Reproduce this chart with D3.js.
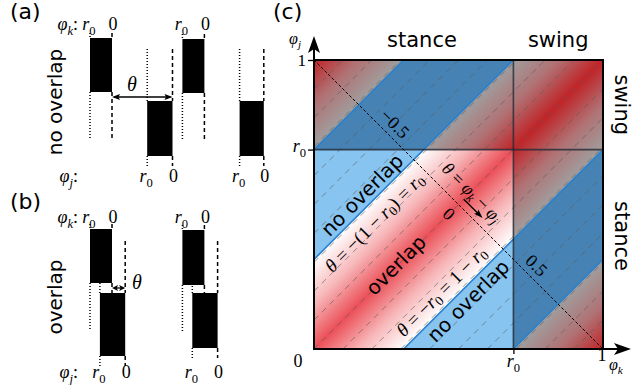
<!DOCTYPE html>
<html><head><meta charset="utf-8">
<script src="https://cdn.jsdelivr.net/npm/d3@7"></script>
<style>body{margin:0;background:#fff}svg{display:block}</style>
</head><body>
<svg id="c" width="633" height="385"></svg>
<script>
// ---------------- data ----------------
const r0 = 0.69;
const panelLabels = ["(a)", "(b)", "(c)"];
const topPhaseLabels = [{lab: "stance", from: 0, to: r0}, {lab: "swing", from: r0, to: 1}];
const rightPhaseLabels = [{lab: "swing", from: r0, to: 1}, {lab: "stance", from: 0, to: r0}];
const blocks = [
  {k: [0, r0], j: [0, r0], tone: "light"},
  {k: [0, r0], j: [r0, 1], tone: "dark"},
  {k: [r0, 1], j: [0, r0], tone: "dark"},
  {k: [r0, 1], j: [r0, 1], tone: "dark"}
];
const bandEdges = [-r0, -(1 - r0), 1 - r0, r0];
const isoTheta = [-0.9, -0.8, -0.7, -0.6, -0.5, -0.4, -0.3, -0.2, -0.1, 0, 0.1, 0.2, 0.3, 0.4, 0.5, 0.6, 0.7, 0.8, 0.9];
const antiTicks = [{t: -0.5, lab: "−0.5", side: 1}, {t: 0, lab: "0", side: -1}, {t: 0.48, lab: "0.5", side: 1}];
const xTicks = [{v: 0, lab: "0"}, {v: r0, lab: "r0"}, {v: 1, lab: "1"}];
const yTicks = [{v: r0, lab: "r0"}, {v: 1, lab: "1"}];
// schematic pulses (phase units) for panels (a) and (b)
const pulsesA = [
  {row: "k", start: 0, end: 1},
  {row: "j", start: 2.6, end: 3.75},
  {row: "k", start: 4.2, end: 5.2},
  {row: "j", start: 6.8, end: 7.9}
];
const pulsesB = [
  {row: "k", start: 0, end: 1},
  {row: "j", start: 0.45, end: 1.6},
  {row: "k", start: 4.2, end: 5.2},
  {row: "j", start: 4.65, end: 5.8}
];
const thetaA = [1, 3.75];
const thetaB = [1, 1.6];

// ---------------- setup ----------------
const svg = d3.select("#c");
const SANS = "DejaVu Sans, sans-serif";
const SERIF = "Liberation Serif, Times New Roman, serif";
const defs = svg.append("defs");

function mt(sel, parts, fs) {
  let sub = false;
  parts.forEach(p => {
    const t = p[0], st = p[1] || "";
    const ts = sel.append("tspan").text(t);
    if (st.includes("i")) ts.attr("font-style", "italic");
    const isSub = st.includes("s");
    if (isSub) ts.attr("font-size", 0.7 * fs);
    if (isSub && !sub) ts.attr("dy", 0.28 * fs);
    if (!isSub && sub) ts.attr("dy", -0.28 * fs);
    sub = isSub;
  });
  return sel;
}
const R0 = [["r", "i"], ["0", "s"]];

function head(g, x, y, ang, len, wid, notch) {
  const a = ang * Math.PI / 180, c = Math.cos(a), s = Math.sin(a);
  const pts = [[0, 0], [-len, wid / 2], [-len + notch, 0], [-len, -wid / 2]]
    .map(([u, v]) => [x + u * c - v * s, y + u * s + v * c]);
  g.append("path").attr("d", "M" + pts.map(p => p.join(",")).join("L") + "Z").attr("fill", "#000");
}

// ---------------- panel (c) ----------------
const xC = d3.scaleLinear().domain([0, 1]).range([314, 603]);
const yC = d3.scaleLinear().domain([0, 1]).range([349, 60]);
const palette = {
  light: {red: "#eb5058", half: "#f7b6b8", mid: "#ffffff", blue: "#88c4f0"},
  dark:  {red: "#c02428", half: "#b07274", mid: "#a09e9e", blue: "#4682b4"}
};
const stopsFor = p => [
  [-1, p.red], [-1 + (1 - r0) / 2, p.half], [-r0, p.mid], [-r0, p.blue], [-(1 - r0), p.blue], [-(1 - r0), p.mid],
  [-(1 - r0) / 2, p.half], [0, p.red], [(1 - r0) / 2, p.half], [1 - r0, p.mid], [1 - r0, p.blue], [r0, p.blue],
  [r0, p.mid], [1 - (1 - r0) / 2, p.half], [1, p.red]
];
Object.keys(palette).forEach(k => {
  const gr = defs.append("linearGradient").attr("id", "g-" + k).attr("gradientUnits", "userSpaceOnUse")
    .attr("x1", xC(0)).attr("y1", yC(1)).attr("x2", xC(1)).attr("y2", yC(0));
  stopsFor(palette[k]).forEach(([th, col]) => gr.append("stop").attr("offset", (th + 1) / 2).attr("stop-color", col));
});
defs.append("clipPath").attr("id", "sq").append("rect")
  .attr("x", xC(0)).attr("y", yC(1)).attr("width", xC(1) - xC(0)).attr("height", yC(0) - yC(1));

const gc = svg.append("g");
gc.selectAll("rect.blk").data(blocks).join("rect").attr("class", "blk")
  .attr("x", d => xC(d.k[0])).attr("y", d => yC(d.j[1]))
  .attr("width", d => xC(d.k[1]) - xC(d.k[0])).attr("height", d => yC(d.j[0]) - yC(d.j[1]))
  .attr("fill", d => "url(#g-" + d.tone + ")");

const thLine = th => th >= 0 ? [[th, 0], [1, 1 - th]] : [[0, -th], [1 + th, 1]];
const gl = gc.append("g").attr("clip-path", "url(#sq)");
gl.selectAll("line.iso").data(isoTheta).join("line").attr("class", "iso")
  .attr("x1", d => xC(thLine(d)[0][0])).attr("y1", d => yC(thLine(d)[0][1]))
  .attr("x2", d => xC(thLine(d)[1][0])).attr("y2", d => yC(thLine(d)[1][1]))
  .attr("stroke", "#5a5a5a").attr("stroke-opacity", 0.6).attr("stroke-width", 1).attr("stroke-dasharray", "6,5");
gl.selectAll("line.edge").data(bandEdges).join("line").attr("class", "edge")
  .attr("x1", d => xC(thLine(d)[0][0])).attr("y1", d => yC(thLine(d)[0][1]))
  .attr("x2", d => xC(thLine(d)[1][0])).attr("y2", d => yC(thLine(d)[1][1]))
  .attr("stroke", "#2a80cc").attr("stroke-width", 1.6);
// r0 separators
gc.append("line").attr("x1", xC(r0)).attr("x2", xC(r0)).attr("y1", yC(0)).attr("y2", yC(1))
  .attr("stroke", "#1b2430").attr("stroke-opacity", 0.8).attr("stroke-width", 1.6);
gc.append("line").attr("x1", xC(0)).attr("x2", xC(1)).attr("y1", yC(r0)).attr("y2", yC(r0))
  .attr("stroke", "#1b2430").attr("stroke-opacity", 0.8).attr("stroke-width", 1.6);
// anti-diagonal theta axis
gc.append("line").attr("x1", xC(0)).attr("y1", yC(1)).attr("x2", xC(1)).attr("y2", yC(0))
  .attr("stroke", "#000").attr("stroke-width", 1).attr("stroke-dasharray", "3,2");
// outline
gc.append("rect").attr("x", xC(0)).attr("y", yC(1)).attr("width", xC(1) - xC(0)).attr("height", yC(0) - yC(1))
  .attr("fill", "none").attr("stroke", "#000").attr("stroke-width", 2);

// axes with arrows
const ax = svg.append("g");
ax.append("line").attr("x1", xC(0)).attr("y1", yC(0)).attr("x2", xC(0)).attr("y2", 45).attr("stroke", "#000").attr("stroke-width", 2);
head(ax, xC(0), 36, -90, 17, 12, 4);
ax.append("line").attr("x1", xC(0)).attr("y1", yC(0)).attr("x2", 622).attr("y2", yC(0)).attr("stroke", "#000").attr("stroke-width", 2);
head(ax, 631, yC(0), 0, 17, 12, 4);
svg.append("g").attr("transform", `translate(${xC(0)},0)`)
  .call(d3.axisLeft(yC).tickValues(yTicks.map(d => d.v)).tickSize(6).tickFormat(""))
  .call(g => g.select(".domain").remove()).selectAll("line").attr("stroke-width", 1.3);
svg.append("g").attr("transform", `translate(0,${yC(0)})`)
  .call(d3.axisBottom(xC).tickValues([r0]).tickSize(5).tickFormat(""))
  .call(g => g.select(".domain").remove()).selectAll("line").attr("stroke-width", 1.3);

// tick labels
yTicks.forEach(d => {
  const fs = d.lab === "1" ? 17 : 18;
  const t = svg.append("text").attr("x", 306).attr("y", yC(d.v) + (d.lab === "1" ? 6 : 2)).attr("text-anchor", "end")
    .attr("font-family", SERIF).attr("font-size", fs);
  if (d.lab === "r0") mt(t, R0, fs); else t.text(d.lab);
});
xTicks.forEach(d => {
  const px = d.v === 0 ? 298 : d.v === 1 ? 602 : xC(d.v);
  const py = d.v === 1 ? 361 : 367;
  const t = svg.append("text").attr("x", px).attr("y", py).attr("text-anchor", "middle")
    .attr("font-family", SERIF).attr("font-size", 18);
  if (d.lab === "r0") mt(t, R0, 18); else t.text(d.lab);
});
mt(svg.append("text").attr("x", 295).attr("y", 44).attr("text-anchor", "middle").attr("font-family", SERIF).attr("font-size", 16),
  [["φ", "i"], ["j", "is"]], 16);
mt(svg.append("text").attr("x", 609).attr("y", 370).attr("font-family", SERIF).attr("font-size", 16),
  [["φ", "i"], ["k", "is"]], 16);

// phase labels
topPhaseLabels.forEach(d => svg.append("text").attr("x", d.lab === "stance" ? 422 : xC((d.from + d.to) / 2))
  .attr("y", 47).attr("text-anchor", "middle").attr("font-family", SANS).attr("font-size", 21).text(d.lab));
rightPhaseLabels.forEach(d => svg.append("text")
  .attr("transform", `translate(615,${d.lab === "stance" ? 236 : yC((d.from + d.to) / 2)}) rotate(90)`)
  .attr("text-anchor", "middle").attr("font-family", SANS).attr("font-size", 21).text(d.lab));

// diagonal annotations (rotated -45), positioned by theta offset & position along diagonal
function diagPoint(theta, s) { // s: along-diagonal parameter (phi_k + phi_j)/2
  return [xC(s + theta / 2), yC(s - theta / 2)];
}
function diagText(theta, s, parts, fs, family) {
  const [px, py] = diagPoint(theta, s);
  const t = svg.append("text").attr("transform", `translate(${px},${py}) rotate(-45)`)
    .attr("text-anchor", "middle").attr("dominant-baseline", "central")
    .attr("font-family", family).attr("font-size", fs);
  if (typeof parts === "string") t.text(parts); else mt(t, parts, fs);
}
diagText(-0.367, 0.35, "no overlap", 20, SANS);
diagText(-0.232, 0.323, [["θ", "i"], [" = −(1 − ", ""], ["r", "i"], ["0", "s"], [") = ", ""], ["r", "i"], ["0", "s"]], 19, SERIF);
diagText(-0.007, 0.287, "overlap", 20, SANS);
diagText(0.238, 0.32, [["θ", "i"], [" = −", ""], ["r", "i"], ["0", "s"], [" = 1 − ", ""], ["r", "i"], ["0", "s"]], 19, SERIF);
diagText(0.367, 0.35, "no overlap", 20, SANS);

// anti-diagonal annotations (rotated 45)
function antiPoint(theta, off) { // off: px perpendicular (towards upper-right)
  const px = xC((1 + theta) / 2), py = yC((1 - theta) / 2);
  return [px + off / Math.SQRT2, py - off / Math.SQRT2];
}
antiTicks.forEach(d => {
  const [px, py] = antiPoint(d.t, d.side > 0 ? 12 : 13.5 * d.side);
  svg.append("text").attr("transform", `translate(${px},${py}) rotate(45)`)
    .attr("text-anchor", "middle").attr("dominant-baseline", "central")
    .attr("font-family", SERIF).attr("font-size", 18).text(d.lab);
});
{
  const [px, py] = antiPoint(0.005, 18);
  mt(svg.append("text").attr("transform", `translate(${px},${py}) rotate(45)`)
    .attr("text-anchor", "middle").attr("dominant-baseline", "central")
    .attr("font-family", SERIF).attr("font-size", 18),
    [["θ", "i"], [" = ", ""], ["φ", "i"], ["k", "is"], [" − ", ""], ["φ", "i"], ["j", "is"]], 18);
  const [ax1, ay1] = antiPoint(0.0, 7.5), [ax2, ay2] = antiPoint(0.13, 7.5);
  svg.append("line").attr("x1", ax1).attr("y1", ay1).attr("x2", ax2 - 4).attr("y2", ay2 - 4).attr("stroke", "#000").attr("stroke-width", 1.3);
  head(svg, ax2, ay2, 45, 9, 6, 1.5);
}

// ---------------- panels (a) and (b) ----------------
const xs = d3.scaleLinear().domain([0, 1]).range([90, 112]);
function pulsePanel(pulses, lay, thetaPair) {
  const g = svg.append("g");
  pulses.forEach((p, i) => {
    const L = lay[p.row], top = L.top[i >> 1], bot = L.bot[i >> 1];
    const ext = p.row === "k" ? [[bot, bot + 48], [top - 5, top]] : [[top - 52, top], [bot, bot + 10]];
    [[p.start, "1,2"], [p.end, "4,3"]].forEach(([v, dash]) => ext.forEach(([a, b]) =>
      g.append("line").attr("x1", xs(v)).attr("x2", xs(v)).attr("y1", a).attr("y2", b)
        .attr("stroke", "#000").attr("stroke-width", 1.5).attr("stroke-dasharray", dash)));
  });
  pulses.forEach((p, i) => {
    const L = lay[p.row], top = L.top[i >> 1], bot = L.bot[i >> 1];
    g.append("rect").attr("x", xs(p.start)).attr("y", top).attr("width", xs(p.end) - xs(p.start))
      .attr("height", bot - top).attr("fill", "#000");
    mt(g.append("text").attr("x", xs(p.start) - 1).attr("y", L.lab).attr("text-anchor", "middle")
      .attr("font-family", SERIF).attr("font-size", 18), R0, 18);
    g.append("text").attr("x", xs(p.end) + 1).attr("y", L.lab).attr("text-anchor", "middle")
      .attr("font-family", SERIF).attr("font-size", 18).text("0");
  });
  mt(g.append("text").attr("x", 78).attr("y", lay.k.lab).attr("text-anchor", "end")
    .attr("font-family", SERIF).attr("font-size", 18), [["φ", "i"], ["k", "is"], [":", ""]], 18);
  mt(g.append("text").attr("x", 78).attr("y", lay.j.lab).attr("text-anchor", "end")
    .attr("font-family", SERIF).attr("font-size", 18), [["φ", "i"], ["j", "is"], [":", ""]], 18);
  // theta double arrow
  const [a, b] = thetaPair.map(xs), y = lay.arrowY;
  const hl = Math.min(8, (b - a) / 2 - 0.5);
  g.append("line").attr("x1", a + 2).attr("x2", b - 2).attr("y1", y).attr("y2", y).attr("stroke", "#000").attr("stroke-width", 1.3);
  head(g, a, y, 180, hl, 6, 1.5);
  head(g, b, y, 0, hl, 6, 1.5);
  g.append("text").attr("x", lay.thetaX).attr("y", lay.thetaY).attr("text-anchor", "middle")
    .attr("font-family", SERIF).attr("font-style", "italic").attr("font-size", 20).text("θ");
  g.append("text").attr("transform", `translate(62,${lay.wordY}) rotate(-90)`).attr("text-anchor", "middle")
    .attr("font-family", SANS).attr("font-size", 20).text(lay.word);
}
pulsePanel(pulsesA, {
  k: {top: [38, 39], bot: [92, 93], lab: 30},
  j: {top: [101, 101], bot: [156, 156], lab: 182},
  arrowY: 97, thetaX: 132, thetaY: 91, word: "no overlap", wordY: 102
}, thetaA);
pulsePanel(pulsesB, {
  k: {top: [229, 230], bot: [283, 285], lab: 223},
  j: {top: [293, 293], bot: [356, 348], lab: 378},
  arrowY: 288, thetaX: 137, thetaY: 289, word: "overlap", wordY: 297
}, thetaB);

// panel labels
[[10, 19], [10, 209], [273, 19]].forEach(([x, y], i) =>
  svg.append("text").attr("x", x).attr("y", y).attr("font-family", SANS).attr("font-size", 22).text(panelLabels[i]));
</script>
</body></html>
